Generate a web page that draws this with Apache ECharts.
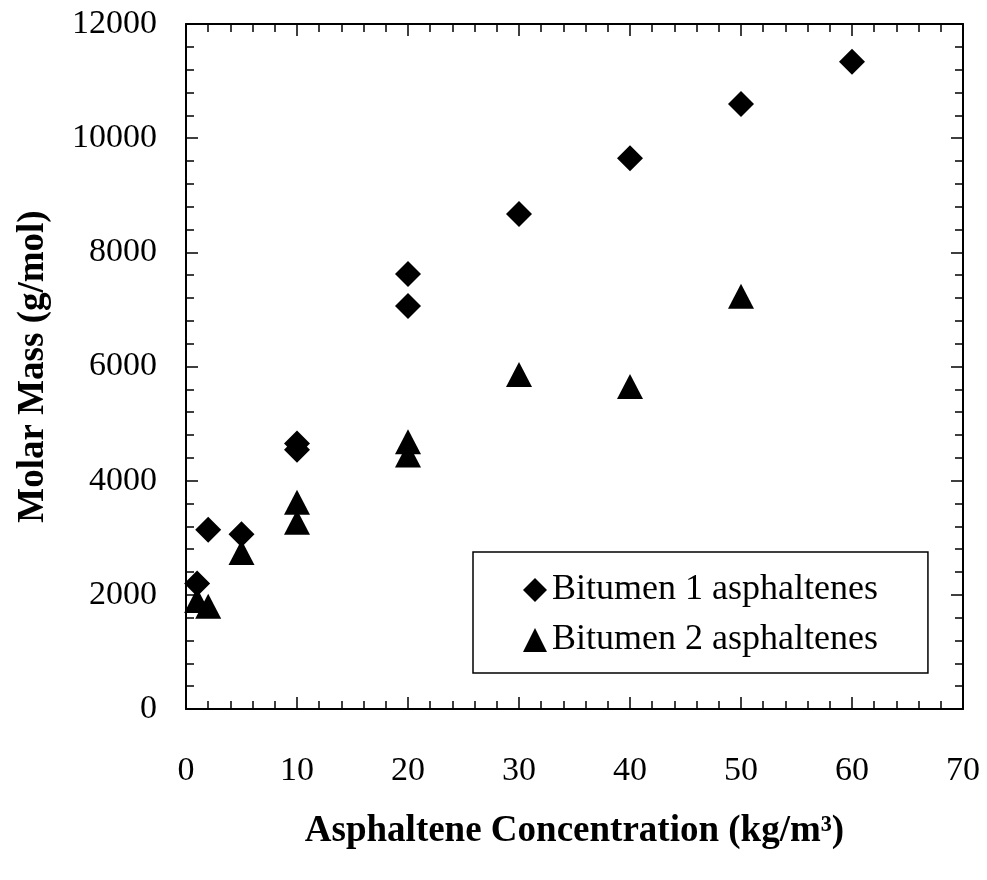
<!DOCTYPE html>
<html>
<head>
<meta charset="utf-8">
<script src="https://cdn.jsdelivr.net/npm/echarts@6/dist/echarts.min.js"></script>
<style>
    html, body { margin: 0; padding: 0; background: #fff; }
    #chart { width: 987px; height: 880px; }
</style>
</head>
<body>
<div id="chart"></div>
<script>
    // values
    var bitumen1 = [[1, 2200], [2, 3140], [5, 3060], [10, 4650], [10, 4540], [20, 7620], [20, 7060],
                    [30, 8670], [40, 9650], [50, 10600], [60, 11340]];
    var bitumen2 = [[1, 1900], [2, 1800], [5, 2740], [10, 3620], [10, 3270], [20, 4680], [20, 4450],
                    [30, 5860], [40, 5650], [50, 7230]];
    var seriesNames = ['Bitumen 1 asphaltenes', 'Bitumen 2 asphaltenes'];
    var xTitle = 'Asphaltene Concentration (kg/m³)';
    var yTitle = 'Molar Mass (g/mol)';

    var font = 'Liberation Serif';

    function frameAxis(pos, isX, showLabel) {
        var ax = {
            type: 'value',
            position: pos,
            min: 0,
            max: isX ? 70 : 12000,
            interval: isX ? 10 : 2000,
            axisLine: { show: true, onZero: false, lineStyle: { color: '#000', width: 2 } },
            axisTick: { show: true, inside: true, length: 12, lineStyle: { color: '#000', width: 1.5 } },
            minorTick: { show: true, splitNumber: 5, length: 8, lineStyle: { color: '#000', width: 1.5 } },
            splitLine: { show: false },
            axisLabel: {
                show: showLabel,
                color: '#000',
                fontFamily: font,
                fontSize: 34,
                margin: isX ? 45 : 29,
                formatter: function (v) { return String(v); }
            }
        };
        return ax;
    }

    var xBottom = frameAxis('bottom', true, true);
    xBottom.name = xTitle;
    xBottom.nameLocation = 'middle';
    xBottom.nameGap = 104;
    xBottom.nameTextStyle = { color: '#000', fontFamily: font, fontSize: 37, fontWeight: 'bold' };

    var yLeft = frameAxis('left', false, true);
    yLeft.name = yTitle;
    yLeft.nameLocation = 'middle';
    yLeft.nameRotate = 90;
    yLeft.nameGap = 134;
    yLeft.nameTextStyle = { color: '#000', fontFamily: font, fontSize: 37, fontWeight: 'bold' };

    var chart = echarts.init(document.getElementById('chart'));
    chart.setOption({
        animation: false,
        backgroundColor: '#fff',
        grid: { left: 186, right: 24, top: 24, bottom: 171 },
        xAxis: [xBottom, frameAxis('top', true, false)],
        yAxis: [yLeft, frameAxis('right', false, false)],
        legend: {
            orient: 'vertical',
            left: 473,
            top: 552,
            padding: [20, 50, 15, 50],
            itemGap: 14,
            itemWidth: 24,
            itemHeight: 24,
            borderColor: '#000',
            borderWidth: 1.5,
            backgroundColor: '#fff',
            itemStyle: { opacity: 1 },
            textStyle: { color: '#000', fontFamily: font, fontSize: 36, lineHeight: 36 },
            data: [
                { name: seriesNames[0], icon: 'diamond' },
                { name: seriesNames[1], icon: 'triangle' }
            ]
        },
        series: [
            {
                name: seriesNames[0],
                type: 'scatter',
                symbol: 'diamond',
                symbolSize: [26, 26],
                itemStyle: { color: '#000', opacity: 1 },
                data: bitumen1
            },
            {
                name: seriesNames[1],
                type: 'scatter',
                symbol: 'triangle',
                symbolSize: [26, 25],
                itemStyle: { color: '#000', opacity: 1 },
                data: bitumen2
            }
        ]
    });
</script>
</body>
</html>
